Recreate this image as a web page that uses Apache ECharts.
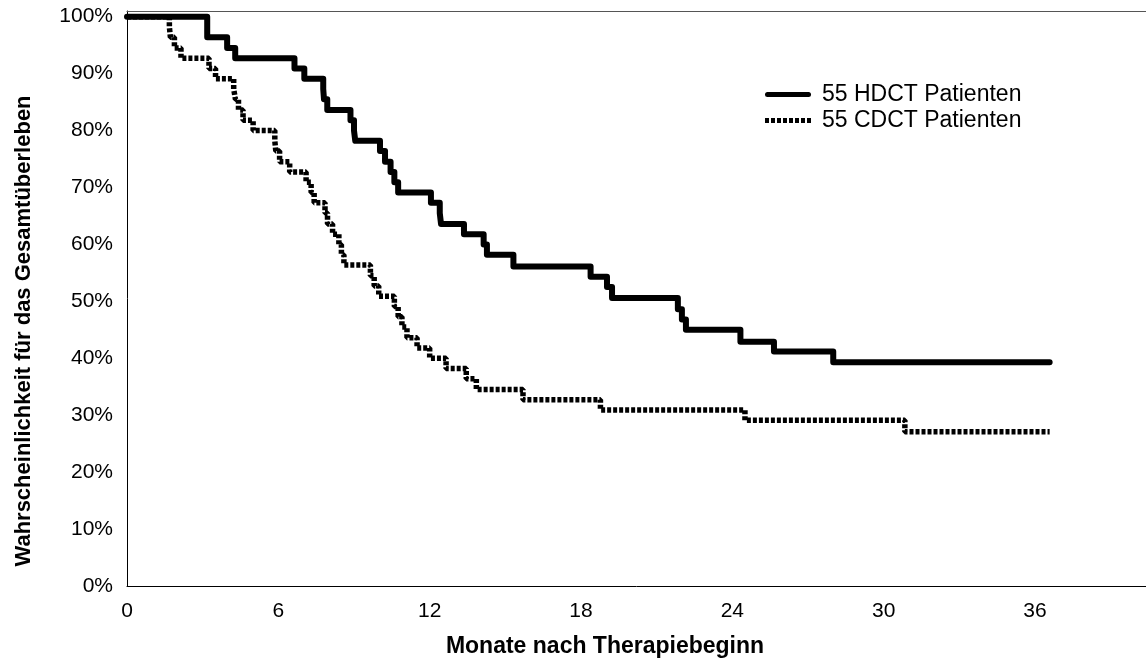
<!DOCTYPE html>
<html>
<head>
<meta charset="utf-8">
<script src="https://cdn.jsdelivr.net/npm/echarts@6/dist/echarts.min.js"></script>
<style>
html,body{margin:0;padding:0;background:#fff;}
#c{width:1146px;height:662px;}
</style>
</head>
<body>
<div id="c"></div>
<script>
// Kaplan-Meier data (months, survival %)
const hdctMonths = [0, 3.18, 3.97, 4.29, 6.64, 7.03, 7.78, 7.81, 7.94, 8.86, 9.0, 9.05, 10.03, 10.23, 10.45, 10.6, 10.75, 12.05, 12.4, 12.45, 13.36, 14.14, 14.27, 15.32, 18.38, 19.03, 19.23, 21.84, 22.0, 22.16, 24.32, 25.65, 28.0, 36.58];
const hdctSurv   = [100, 96.4, 94.5, 92.7, 90.9, 89.1, 87.3, 85.5, 83.6, 81.8, 80.0, 78.2, 76.4, 74.5, 72.7, 70.9, 69.1, 67.3, 65.5, 63.6, 61.8, 60.0, 58.2, 56.1, 54.3, 52.5, 50.6, 48.6, 46.8, 45.0, 42.9, 41.2, 39.3, 39.3];

const cdctMonths = [0, 1.68, 1.72, 1.88, 2.14, 3.25, 3.51, 4.23, 4.3, 4.42, 4.6, 5.0, 5.86, 5.9, 6.05, 6.45, 7.1, 7.3, 7.42, 7.85, 7.95, 8.15, 8.4, 8.5, 8.6, 9.65, 9.8, 9.98, 10.6, 10.75, 10.9, 11.1, 11.5, 12.0, 12.65, 13.45, 13.85, 15.7, 18.77, 24.5, 30.84, 36.58];
const cdctSurv   = [100, 98.2, 96.4, 94.5, 92.7, 90.9, 89.1, 87.3, 85.5, 83.6, 81.8, 80.0, 78.2, 76.4, 74.5, 72.7, 70.9, 69.1, 67.3, 65.5, 63.6, 61.8, 60.0, 58.2, 56.4, 54.5, 52.7, 50.9, 49.1, 47.3, 45.5, 43.6, 41.8, 40.0, 38.2, 36.4, 34.5, 32.7, 30.9, 29.1, 27.1, 27.1];

const seriesNames = ['55 HDCT Patienten', '55 CDCT Patienten'];
const xTickStep = 6;
const yTickStep = 10;
const xTitle = 'Monate nach Therapiebeginn';
const yTitle = 'Wahrscheinlichkeit für das Gesamtüberleben';

const pairs = (xs, ys) => xs.map((x, i) => [x, ys[i]]);
const FONT = "'Liberation Sans', Arial, sans-serif";

// legend icons (style only)
let dotted = '';
for (let i = 0; i < 8; i++) dotted += 'M' + (i * 6) + ',0h4v5h-4z';
const dottedIcon = 'path://' + dotted;
const solidIcon = 'path://M2.5,0h41a2.5,2.5 0 0 1 0,5h-41a2.5,2.5 0 0 1 0,-5z';

const X_MAX = 40.4;

const chart = echarts.init(document.getElementById('c'), null, {renderer: 'canvas'});
chart.setOption({
  animation: false,
  backgroundColor: '#ffffff',
  grid: {left: 127, top: 11, height: 575, width: 1032},
  legend: {
    orient: 'vertical',
    left: 760, top: 78,
    itemWidth: 46, itemHeight: 5, itemGap: 3,
    textStyle: {fontFamily: FONT, fontSize: 23, color: '#000', padding: [0, 0, 0, 6]},
    data: [
      {name: seriesNames[0], icon: solidIcon, itemStyle: {color: '#000'}},
      {name: seriesNames[1], icon: dottedIcon, itemStyle: {color: '#000'}}
    ]
  },
  xAxis: [
    {
      type: 'value', min: 0, max: X_MAX, interval: xTickStep,
      axisLine: {show: true, lineStyle: {color: '#000', width: 1}},
      axisTick: {show: false},
      splitLine: {show: false},
      axisLabel: {
        fontFamily: FONT, fontSize: 21, color: '#000', margin: 15,
        formatter: v => (v % xTickStep === 0 ? String(v) : ''),
        showMaxLabel: false
      }
    },
    {
      type: 'value', position: 'top', min: 0, max: X_MAX, interval: xTickStep,
      axisLine: {show: true, lineStyle: {color: '#555', width: 1.2}},
      axisTick: {show: false}, axisLabel: {show: false}, splitLine: {show: false}
    }
  ],
  yAxis: {
    type: 'value', min: 0, max: 101, interval: yTickStep,
    axisLine: {show: true, lineStyle: {color: '#000', width: 1}},
    axisTick: {show: false},
    splitLine: {show: false},
    axisLabel: {
      fontFamily: FONT, fontSize: 21, color: '#000', margin: 14,
      formatter: v => (v % yTickStep === 0 ? v + '%' : '')
    }
  },
  graphic: [
    {type: 'text', x: 605, y: 647,
     style: {text: xTitle, font: "bold 23px 'Liberation Sans', Arial, sans-serif", fill: '#000', textAlign: 'center', textVerticalAlign: 'middle'}},
    {type: 'text', x: 24, y: 331, rotation: Math.PI / 2,
     style: {text: yTitle, font: "bold 22px 'Liberation Sans', Arial, sans-serif", fill: '#000', textAlign: 'center', textVerticalAlign: 'middle'}}
  ],
  series: [
    {
      name: seriesNames[0], type: 'line', step: 'end', symbol: 'none', showSymbol: false,
      xAxisIndex: 0,
      data: pairs(hdctMonths, hdctSurv),
      lineStyle: {color: '#000', width: 6, cap: 'round', join: 'round'},
      itemStyle: {color: '#000'}
    },
    {
      name: seriesNames[1], type: 'line', step: 'end', symbol: 'none', showSymbol: false,
      xAxisIndex: 0,
      data: pairs(cdctMonths, cdctSurv),
      lineStyle: {color: '#000', width: 5.5, type: [4, 2], cap: 'butt'},
      itemStyle: {color: '#000'}
    }
  ]
});
</script>
</body>
</html>
